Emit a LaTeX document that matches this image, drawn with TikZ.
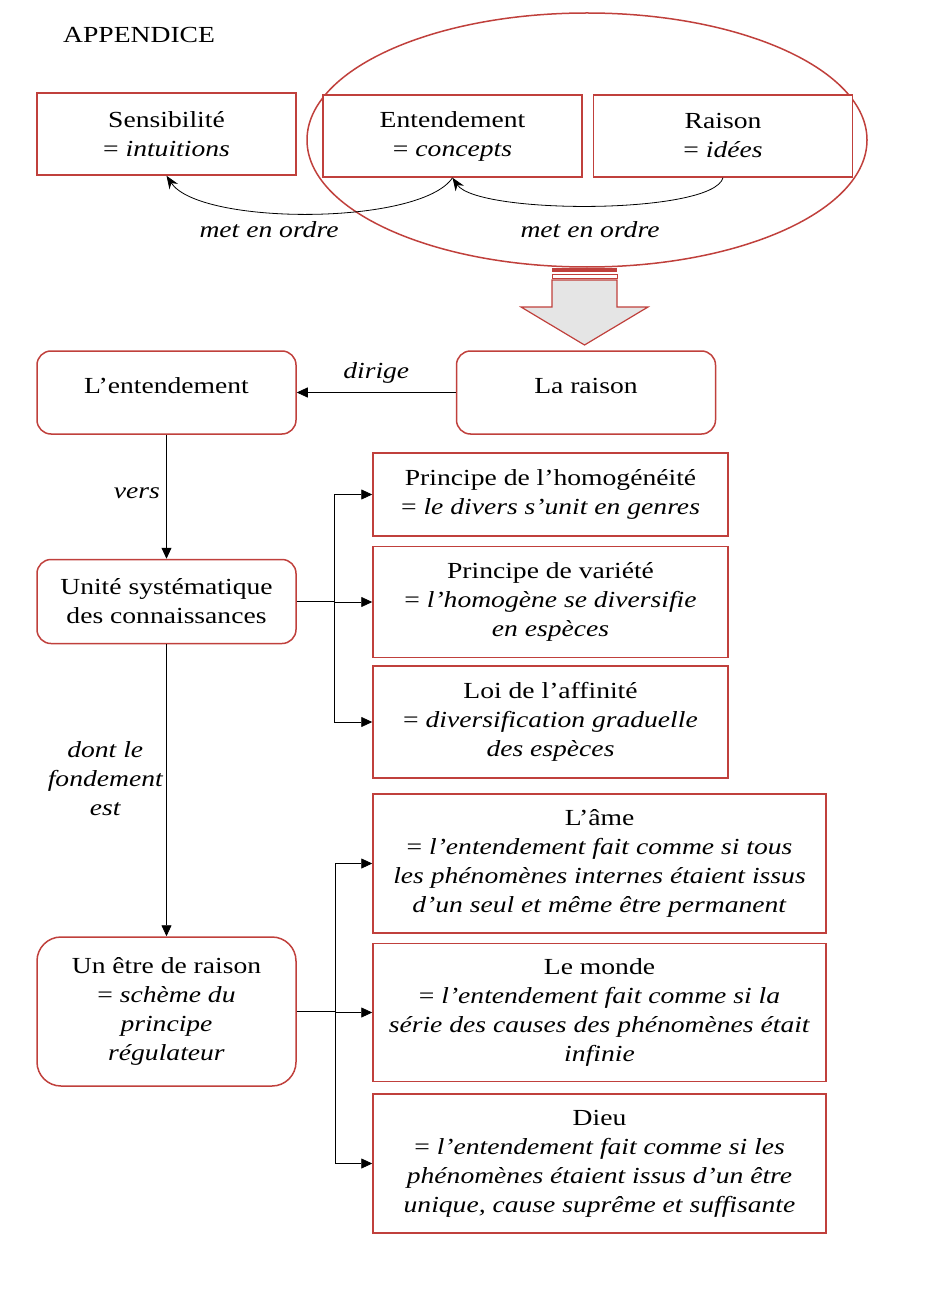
\documentclass[tikz,border=0pt]{standalone}
\usepackage{fontspec}
\setmainfont{Liberation Serif}[FakeStretch=1.2]
\usetikzlibrary{positioning, arrows.meta}
\definecolor{boxred}{RGB}{192,64,60}
\tikzset{
txt/.style={font=\fontsize{23}{29}\selectfont}, % size of all the texts
cadre/.style={txt, draw=boxred, line width=1.5pt, fill=white, align=center, inner sep=0pt}, % red frame
cadrerond/.style={cadre, rounded corners=14pt}, % red frame with round corners
link/.style={-{Triangle[length=11pt,width=10pt]}, line width=0.8pt}, % straight arrow
courbe/.style={-{Stealth[length=13pt,width=10pt]}, line width=0.8pt}, % curved arrow
lab/.style={font=\fontsize{23}{29}\selectfont\itshape, align=center}, % label of an arrow
}

\begin{document}
\begin{tikzpicture}[x=1pt, y=-1pt]
  \useasboundingbox (0,0) rectangle (936,1297);

  % Title
  \node[txt, anchor=base west, inner sep=0pt] (titre) at (63,43) {APPENDICE};

  % Faculties
  \draw[boxred, line width=1.5pt] (587,140) ellipse [x radius=280pt, y radius=127pt];
  \node[cadre, minimum width=259pt, minimum height=82pt] (sens) at (166.5,134) {Sensibilité\\= \textit{intuitions}};
  \node[cadre, minimum width=259pt, minimum height=82pt] (entend) at (452.5,136) {Entendement\\= \textit{concepts}};
  \node[cadre, minimum width=259pt, minimum height=82pt, right=10pt of entend] (raison) {Raison\\= \textit{idées}};

  \draw[courbe] (entend.south) .. controls +(-32,48) and +(33,50) .. (sens.south);
  \draw[courbe] (raison.south) .. controls +(-10,37) and +(25,37) .. (entend.south);
  \node[lab] (ordre1) at (269,230) {met en ordre};
  \node[lab] (ordre2) at (590,230) {met en ordre};

  % Big arrow
  \fill[boxred] (552,268) rectangle (617,272);
  \draw[boxred, line width=1pt] (552,274) rectangle (617,278);
  \draw[boxred, line width=1.2pt, fill=gray!20] (552,280) -- (617,280) -- (617,307) -- (648,307)
    -- (584.5,345) -- (521,307) -- (552,307) -- cycle;

  % Reason and understanding
  \node[cadrerond, minimum width=259pt, minimum height=83pt, text depth=14pt] (lentend) at (166.5,392.5) {L’entendement};
  \node[cadrerond, minimum width=259pt, minimum height=83pt, text depth=14pt, right=159pt of lentend] (laraison) {La raison};
  \node[cadrerond, minimum width=259pt, minimum height=84pt, below=124pt of lentend] (unite) {Unité systématique\\des connaissances};
  \node[cadrerond, rounded corners=24pt, minimum width=259pt, minimum height=149pt] (etre) at (166.5,1011.5)
    {Un être de raison\\= \textit{schème du}\\\textit{principe}\\\textit{régulateur}};

  \draw[link] (laraison) -- (lentend) node[lab, midway, above=5pt] {dirige};
  \draw[link] (lentend) -- (unite) node[lab, pos=0.47, left=3pt] {vers};
  \draw[link] (unite) -- (etre) node[lab, pos=0.46, left] {dont le\\fondement\\est};

  % Principles
  \node[cadre, minimum width=355pt, minimum height=83pt] (homog) at (550.5,494.5)
    {Principe de l’homogénéité\\= \textit{le divers s’unit en genres}};
  \node[cadre, minimum width=355pt, minimum height=111pt, below=9pt of homog] (variete)
    {Principe de variété\\= \textit{l’homogène se diversifie}\\\textit{en espèces}};
  \node[cadre, minimum width=355pt, minimum height=112pt, below=7pt of variete] (affin)
    {Loi de l’affinité\\= \textit{diversification graduelle}\\\textit{des espèces}};

  \path (unite.east) ++(38,0) coordinate (fourche1);
  \draw[line width=1.4pt] (unite.east) -- (fourche1);
  \foreach \cible in {homog, variete, affin}
    \draw[link] (fourche1) |- (\cible.west);

  % Ideas
  \node[cadre, minimum width=453pt, minimum height=139pt] (ame) at (599.5,863.5)
    {L’âme\\= \textit{l’entendement fait comme si tous}\\\textit{les phénomènes internes étaient issus}\\\textit{d’un seul et même être permanent}};
  \node[cadre, minimum width=453pt, minimum height=138pt, below=9pt of ame] (monde)
    {Le monde\\= \textit{l’entendement fait comme si la}\\\textit{série des causes des phénomènes était}\\\textit{infinie}};
  \node[cadre, minimum width=453pt, minimum height=139pt, below=11pt of monde] (dieu)
    {Dieu\\= \textit{l’entendement fait comme si les}\\\textit{phénomènes étaient issus d’un être}\\\textit{unique, cause suprême et suffisante}};

  \path (etre.east) ++(39,0) coordinate (fourche2);
  \draw[line width=1.6pt] (etre.east) -- (fourche2);
  \foreach \cible in {ame, monde, dieu}
    \draw[link] (fourche2) |- (\cible.west);
\end{tikzpicture}
\end{document}
